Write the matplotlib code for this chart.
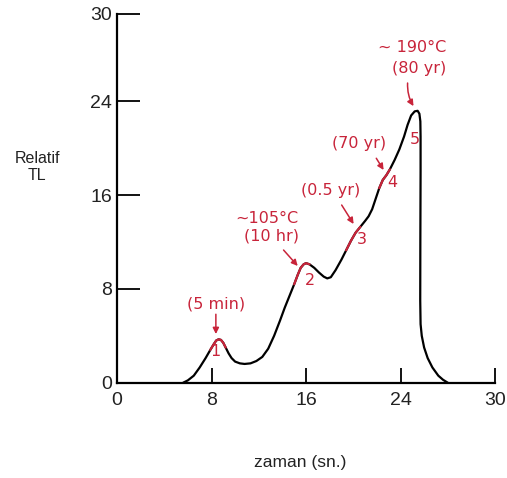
import matplotlib
matplotlib.use("Agg")
import matplotlib.pyplot as plt
import numpy as np

# ---- data ----
time_x = [5.6, 6.0, 6.5, 7.0, 7.5, 7.9, 8.2, 8.4, 8.6, 8.8, 9.0, 9.2, 9.45, 9.7,
          10.0, 10.4, 10.8, 11.3, 11.8, 12.3, 12.8, 13.3, 13.8, 14.2, 14.6, 15.0,
          15.3, 15.55, 15.8, 16.0, 16.3, 16.7, 17.1, 17.5, 17.8, 18.1, 18.5, 19.0,
          19.4, 19.8, 20.2, 20.6, 21.0, 21.3, 21.6, 21.9, 22.2, 22.5, 22.8, 23.1,
          23.5, 23.9, 24.3, 24.6, 24.9, 25.2, 25.45, 25.6, 25.68, 25.7, 25.7,
          25.68, 25.67, 25.7, 25.8, 26.0, 26.3, 26.7, 27.2, 27.6, 28.0]
tl_y = [0.0, 0.2, 0.6, 1.3, 2.1, 2.8, 3.3, 3.6, 3.7, 3.65, 3.4, 3.0, 2.5, 2.1,
        1.8, 1.65, 1.6, 1.65, 1.85, 2.2, 2.9, 4.0, 5.3, 6.4, 7.4, 8.4,
        9.2, 9.8, 10.1, 10.2, 10.1, 9.8, 9.4, 9.05, 8.9, 9.0, 9.6, 10.5,
        11.3, 12.1, 12.8, 13.3, 13.8, 14.2, 14.8, 15.7, 16.6, 17.3, 17.7, 18.2,
        19.0, 19.9, 21.0, 22.0, 22.8, 23.15, 23.2, 22.95, 22.3, 21.0, 18.0,
        12.0, 7.0, 5.0, 4.0, 3.0, 2.1, 1.3, 0.6, 0.25, 0.0]
red_ranges = [(7.9, 9.2), (15.0, 16.5), (19.4, 20.6), (22.2, 23.1)]

xtick_pos = [0, 8, 16, 24, 32]
xtick_labels = ["0", "8", "16", "24", "30"]
ytick_pos = [0, 8, 16, 24, 31.46]
ytick_labels = ["0", "8", "16", "24", "30"]

peak_labels = ["1", "2", "3", "4", "5"]
peak_label_pos = [(8.37, 2.62), (16.3, 8.76), (20.71, 12.18), (23.33, 17.04), (25.19, 20.71)]
notes = [("(5 min)", 8.37, 6.71), ("~105°C", 12.68, 14.05), ("(10 hr)", 13.1, 12.5),
         ("(0.5 yr)", 18.09, 16.43), ("(70 yr)", 20.46, 20.45),
         ("~ 190°C", 25.02, 28.56), ("(80 yr)", 25.6, 26.85)]
arrows = [((8.37, 5.84), (8.37, 4.15), 0.0),
          ((14.1, 11.32), (15.3, 9.96), 0.0),
          ((19.02, 15.16), (20.03, 13.54), 0.0),
          ((21.95, 19.15), (22.57, 18.15), 0.0),
          ((24.6, 25.57), (25.1, 23.6), 0.15)]

RED = "#c8243a"
W, H = 507, 478
fig = plt.figure(figsize=(W / 100, H / 100), dpi=100)
ax = fig.add_axes([117 / W, (H - 382.7) / H, 378 / W, 368.7 / H])

x = np.array(time_x)
y = np.array(tl_y)
ax.plot(x, y, color="black", lw=1.6, solid_capstyle="round", solid_joinstyle="round")
for lo, hi in red_ranges:
    m = (x >= lo) & (x <= hi)
    ax.plot(x[m], y[m], color=RED, lw=1.6, solid_capstyle="round", solid_joinstyle="round")

ax.set_xlim(0, 32)
ax.set_ylim(0, 31.46)
for s in ["top", "right"]:
    ax.spines[s].set_visible(False)
for s in ["left", "bottom"]:
    ax.spines[s].set_linewidth(1.6)
    ax.spines[s].set_color("black")

tick_font = dict(family="Liberation Sans", size=14)
ax.set_xticks(xtick_pos)
ax.set_xticklabels(xtick_labels, fontdict=tick_font)
ax.set_yticks(ytick_pos)
ax.set_yticklabels(ytick_labels, fontdict=tick_font)
ax.tick_params(axis="x", direction="in", length=11, width=1.3, pad=6.5, colors="black")
ax.tick_params(axis="y", direction="in", length=16.5, width=1.3, pad=3.5, colors="black")
for lab in ax.get_xticklabels() + ax.get_yticklabels():
    lab.set_color("#222222")

ann_font = dict(family="DejaVu Sans", size=11.5, color=RED, ha="center", va="center")
for t, tx, ty in notes:
    ax.text(tx, ty, t, **ann_font)
for t, (tx, ty) in zip(peak_labels, peak_label_pos):
    ax.text(tx, ty, t, **ann_font)
for (x0, y0), (x1, y1), rad in arrows:
    ax.annotate("", xy=(x1, y1), xytext=(x0, y0),
                arrowprops=dict(arrowstyle="-|>", color=RED, lw=1.1,
                                mutation_scale=9, shrinkA=0, shrinkB=0,
                                connectionstyle=f"arc3,rad={rad}"))

fig.text(37 / W, 1 - 167 / H, "Relatif\nTL", ha="center", va="center",
         family="Liberation Sans", fontsize=11.5, color="#222222", linespacing=1.15)
fig.text(300 / W, 1 - 462 / H, "zaman (sn.)", ha="center", va="center",
         family="Liberation Sans", fontsize=12.5, color="#222222")

fig.savefig("out.png", dpi=100)
